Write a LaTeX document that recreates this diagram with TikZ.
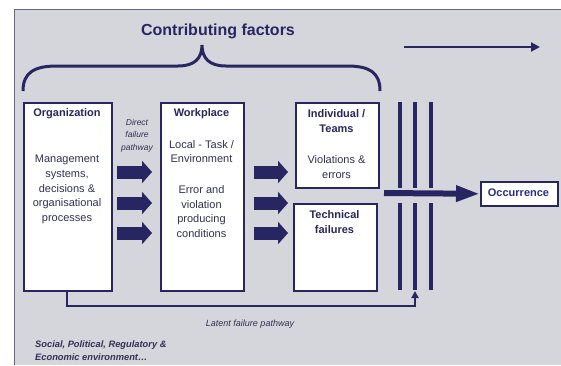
\documentclass[tikz,border=0pt]{standalone}
\usepackage{fontspec}
\setmainfont{Liberation Sans}
\usetikzlibrary{arrows.meta}
\definecolor{navy}{RGB}{40,38,98}
\definecolor{panelgrey}{RGB}{212,214,219}
\definecolor{panelline}{RGB}{100,100,140}
\definecolor{bodytext}{RGB}{48,48,84}
\definecolor{occblue}{RGB}{40,48,130}
\begin{document}
\begin{tikzpicture}[x=1pt,y=-1pt,
  box/.style={draw=navy, line width=1.6pt, fill=white, rectangle, inner sep=0pt, anchor=north west},
  title/.style={font=\fontsize{11}{15}\selectfont\bfseries, text=navy, align=center, inner sep=0pt},
  body/.style={font=\fontsize{11}{14.6}\selectfont, text=bodytext, align=center, inner sep=0pt},
  note/.style={font=\fontsize{8.5}{12.4}\selectfont\itshape, text=bodytext, align=center, inner sep=0pt},
  blockarrow/.style={draw=navy, line width=13pt, -{Triangle[length=10pt,width=22pt]}},
  bar/.style={draw=navy, line width=4.5pt},
  thinline/.style={draw=navy, line width=2pt}]
\useasboundingbox (0,0) rectangle (561,365);
% page and grey panel
\fill[white] (0,0) rectangle (561,365);
\fill[panelgrey] (14,9) rectangle (561,365);
\draw[panelline, line width=1pt] (14,365) -- (14,9) -- (561,9);

% heading and brace
\node[font=\fontsize{16}{18}\selectfont\bfseries, text=navy, inner sep=0pt] (heading) at (218,31) {Contributing factors};
\draw[navy, line width=3pt] (23,91) .. controls (23,72) and (35,66) .. (57,66) -- (178,66)
  .. controls (195,66) and (202,58) .. (202,45)
  .. controls (202,58) and (209,66) .. (226,66) -- (347,66)
  .. controls (369,66) and (380,72) .. (380,91);

% time direction arrow
\coordinate (ts) at (404,47);
\coordinate (te) at (540,47);
\draw[thinline, -{Triangle[length=9pt,width=9pt]}] (ts) -- (te);

% boxes
\node[box, minimum width=88pt, minimum height=188pt] (org) at (23,102) {};
\node[box, minimum width=83pt, minimum height=188pt] (work) at (160,102) {};
\node[box, minimum width=83pt, minimum height=85pt] (indiv) at (295,102) {};
\node[box, minimum width=83pt, minimum height=87pt] (tech) at (293,203) {};
\node[box, minimum width=77pt, minimum height=24pt] (occ) at (480,181) {};

% box texts
\node[title] (orgt) at (67,114) {Organization};
\node[body] (orgb) at (67,189.5) {Management\\systems,\\decisions \&\\organisational\\processes};
\node[title] (workt) at (201.5,114) {Workplace};
\node[body] (workb1) at (201.5,151.5) {Local - Task /\\Environment};
\node[body] (workb2) at (201.5,211.5) {Error and\\violation\\producing\\conditions};
\node[title] (indivt) at (336.5,121.5) {Individual /\\Teams};
\node[body] (indivb) at (336.5,167) {Violations \&\\errors};
\node[title] (techt) at (334.5,222.5) {Technical\\failures};
\node[font=\fontsize{11}{14}\selectfont\bfseries, text=occblue, inner sep=0pt] (occt) at (518.5,193) {Occurrence};

% direct failure pathway label
\node[note] (direct) at (137,135.5) {Direct\\failure\\pathway};

% block arrows from organization to workplace and onward
\foreach \yy in {172,203,233} {
  \draw[blockarrow] ([xshift=4pt]org.east |- 0,\yy) -- ([xshift=-8pt]work.west |- 0,\yy);
  \draw[blockarrow] ([xshift=9pt]work.east |- 0,\yy) -- ([xshift=-5pt]tech.west |- 0,\yy);
}

% defence barriers
\foreach \xx in {400,415,431} {
  \draw[bar] (\xx,102) -- (\xx,188);
  \draw[bar] (\xx,203) -- (\xx,290);
}

% trajectory to the occurrence
\coordinate (trajstart) at (384,193);
\draw[navy, line width=6pt, -{Triangle[length=24pt,width=15pt]}] (trajstart) -- (occ.west);

% latent failure pathway
\coordinate (latcorner) at (415,306);
\coordinate (latend) at (415,291);
\draw[thinline, -{Triangle[length=7pt,width=7pt]}] ([xshift=-1pt]org.south) |- (latcorner) -- (latend);
\node[note, font=\fontsize{9}{11}\selectfont\itshape] (latent) at (250,324) {Latent failure pathway};

% environment label
\node[font=\fontsize{9.3}{12.6}\selectfont\bfseries\itshape, text=bodytext, align=left, anchor=north west, inner sep=0pt] (env) at (35,341) {Social, Political, Regulatory \&\\Economic environment…};
\end{tikzpicture}
\end{document}
